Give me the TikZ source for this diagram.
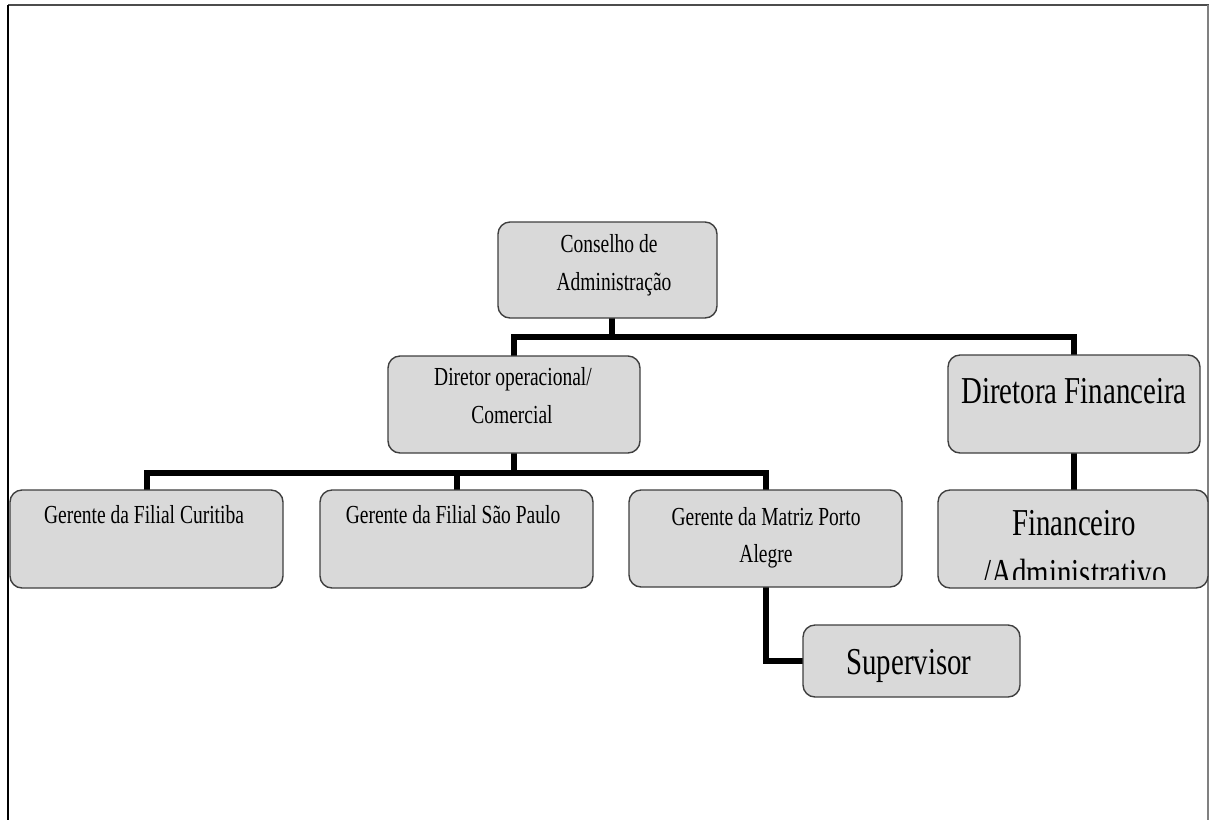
\documentclass[tikz,border=0pt]{standalone}
\usepackage{fontspec}
\setmainfont{Liberation Serif}
\newfontfamily\orgsmall[FakeStretch=0.75]{Liberation Serif}
\newfontfamily\orgbig[FakeStretch=0.76]{Liberation Serif}
\usetikzlibrary{backgrounds}
\definecolor{boxfill}{HTML}{D9D9D9}
\definecolor{boxborder}{HTML}{3F3F3F}
\tikzset{
  orgbox/.style={draw=boxborder, line width=1.4pt, fill=boxfill, rounded corners=12pt,
    inner sep=0pt, outer sep=0pt, anchor=north west},
  conn/.style={draw=black, line width=6pt, line join=miter},
  smalltxt/.style={font=\orgsmall\fontsize{26}{30}\selectfont, inner sep=0pt, anchor=base},
  bigtxt/.style={font=\orgbig\fontsize{38}{44}\selectfont, inner sep=0pt, anchor=base},
}
\begin{document}
\begin{tikzpicture}[x=1pt, y=-1pt]
\useasboundingbox (0,0) rectangle (1209,820);
% frame
\draw[line width=2.5pt, color=black!70] (8,5) -- (1209,5);
\draw[line width=2.5pt, color=black] (8,5) -- (8,820);
\draw[line width=1.2pt, color=black!50] (1208,5) -- (1208,820);

% boxes
\node[orgbox, minimum width=219pt, minimum height=96pt] (cons) at (498,222) {};
\node[orgbox, minimum width=252pt, minimum height=97pt] (dir) at (388,356) {};
\node[orgbox, minimum width=252pt, minimum height=98pt] (fin) at (948,355) {};
\node[orgbox, minimum width=273pt, minimum height=98pt] (cur) at (10,490) {};
\node[orgbox, minimum width=273pt, minimum height=98pt] (sp) at (320,490) {};
\node[orgbox, minimum width=273pt, minimum height=97pt] (mat) at (629,490) {};
\node[orgbox, minimum width=270pt, minimum height=98pt] (fadm) at (938,490) {};
\node[orgbox, minimum width=217pt, minimum height=72pt] (sup) at (803,625) {};

% connectors
\coordinate (bus1) at (0,337);
\coordinate (bus2) at (0,473);
\begin{scope}[on background layer]
\draw[conn] ([xshift=4pt]cons.south) -- ([xshift=4pt]cons.south |- bus1);
\draw[conn] (dir.north) |- (fin.north |- bus1) -- (fin.north);
\draw[conn] (dir.south) -- (dir.south |- bus2);
\draw[conn] (cur.north) |- (mat.north |- bus2) -- (mat.north);
\draw[conn] (sp.north) -- (sp.north |- bus2);
\draw[conn] (fin.south) -- (fin.south |- fadm.north);
\draw[conn] (mat.south) |- (sup.west);
\end{scope}

% texts
\node[smalltxt] (t1) at (609,252) {Conselho de};
\node[smalltxt] (t2) at (614,290) {Administração};
\node[smalltxt] (t3) at (513,385) {Diretor operacional/};
\node[smalltxt] (t4) at (512,423) {Comercial};
\node[bigtxt] (t5) at (1074,403) {Diretora Financeira};
\node[smalltxt] (t6) at (144,523) {Gerente da Filial Curitiba};
\node[smalltxt] (t7) at (453,523) {Gerente da Filial São Paulo};
\node[smalltxt] (t8) at (766,525) {Gerente da Matriz Porto};
\node[smalltxt] (t9) at (766,562) {Alegre};
\begin{scope}
\clip (938,490) rectangle (1209,579);
\node[bigtxt] (t10) at (1074,535) {Financeiro};
\node[bigtxt] (t11) at (1075,585) {/Administrativo};
\end{scope}
\node[bigtxt] (t12) at (909,674) {Supervisor};
\end{tikzpicture}
\end{document}
